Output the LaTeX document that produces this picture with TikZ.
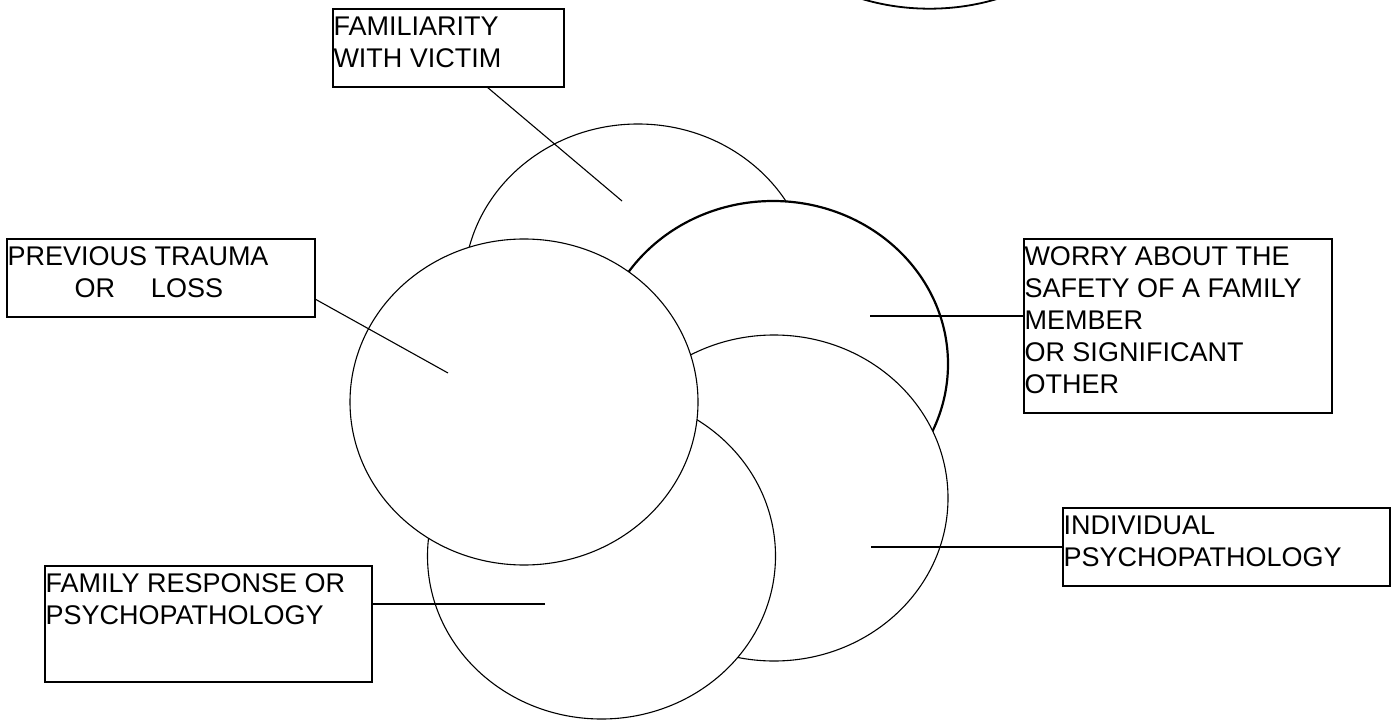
\documentclass[tikz,border=0pt]{standalone}
\usepackage{fontspec}
\setmainfont{Liberation Sans}
\usetikzlibrary{shapes.geometric}
\tikzset{
  blob/.style={ellipse, draw, fill=white, line width=1.1pt, inner sep=0pt, outer sep=0pt, minimum width=348pt, minimum height=326pt},
  boldblob/.style={blob, line width=2.2pt},
  box/.style={draw, fill=white, line width=1.2pt, inner sep=0pt, outer sep=0pt, anchor=north west},
  lbl/.style={inner sep=0pt, outer sep=0pt, anchor=north west, align=left, font=\fontsize{27pt}{32pt}\selectfont},
  link/.style={line width=1.1pt},
}
\begin{document}
\begin{tikzpicture}[x=1pt,y=-1pt]
\useasboundingbox (0,0) rectangle (1398,722);
\begin{scope}
  \clip (0,0) rectangle (1398,722);
  \node[blob, line width=1.8pt, minimum width=380pt, minimum height=300pt] (topArc) at (929.5,-141.3) {};
\end{scope}
% circles, back to front
\node[blob] (famE) at (638,287) {};
\node[boldblob, minimum width=350pt] (worE) at (773,364) {};
\node[blob] (indE) at (774,498) {};
\node[blob] (famRE) at (601.5,556) {};
\node[blob] (prevE) at (524,402) {};
% boxes
\node[box, minimum width=231pt, minimum height=78pt] (famB) at (333,9) {};
\node[box, minimum width=308pt, minimum height=78pt] (prevB) at (7,239) {};
\node[box, minimum width=308pt, minimum height=174pt] (worB) at (1024,239) {};
\node[box, minimum width=327pt, minimum height=78pt] (indB) at (1063,508) {};
\node[box, minimum width=327pt, minimum height=116pt] (famRB) at (45,566) {};
% labels
\node[lbl] (famT) at ([xshift=0.5pt,yshift=-7.5pt]famB.north west) {FAMILIARITY\\WITH VICTIM};
\node[lbl] (prevT) at ([xshift=0.5pt,yshift=-7.5pt]prevB.north west) {PREVIOUS TRAUMA\\\hspace*{67pt}OR\hspace*{36pt}LOSS};
\node[lbl] (worT) at ([xshift=0.5pt,yshift=-7.5pt]worB.north west) {WORRY ABOUT THE\\SAFETY OF A FAMILY\\MEMBER\\OR SIGNIFICANT\\OTHER};
\node[lbl] (indT) at ([xshift=0.5pt,yshift=-7.5pt]indB.north west) {INDIVIDUAL\\PSYCHOPATHOLOGY};
\node[lbl] (famRT) at ([xshift=0.5pt,yshift=-7.5pt]famRB.north west) {FAMILY RESPONSE OR\\PSYCHOPATHOLOGY};
% connector ends
\coordinate (famEnd) at (622,201);
\coordinate (prevEnd) at (448,373);
\coordinate (worEnd) at (870,316);
\coordinate (indEnd) at (871,547);
\coordinate (famREnd) at (545,604);
% connectors
\draw[link] ([xshift=38.5pt]famB.south) -- (famEnd);
\draw[link] ([yshift=-21pt]prevB.east) -- (prevEnd);
\draw[link] (worEnd) -- (worEnd -| worB.west);
\draw[link] (indEnd) -- (indEnd -| indB.west);
\draw[link] (famREnd) -- (famREnd -| famRB.east);
\end{tikzpicture}
\end{document}
